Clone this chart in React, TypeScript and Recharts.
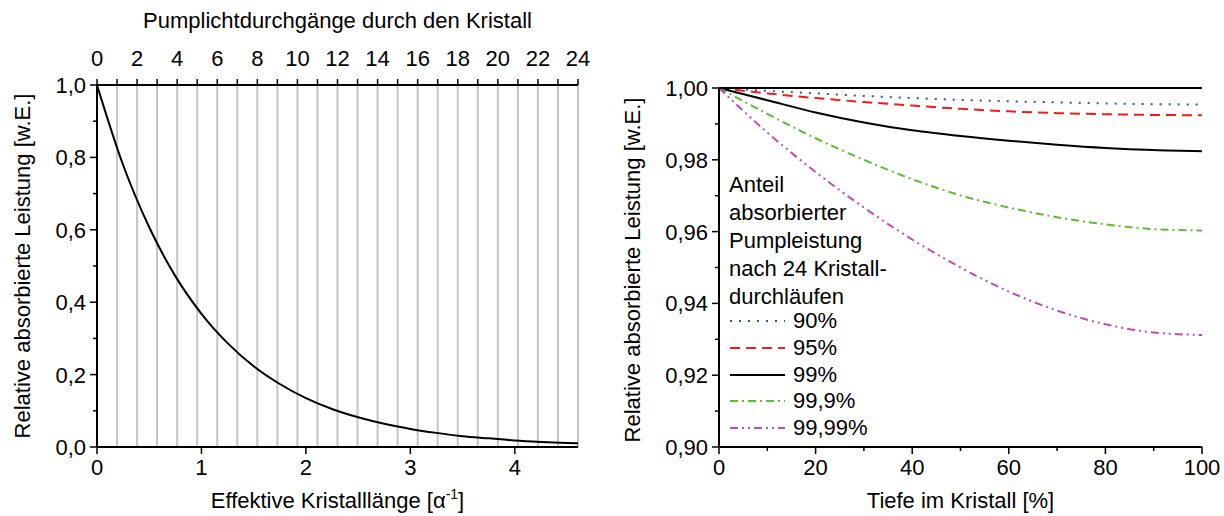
import { LineChart, Line, XAxis, YAxis, CartesianGrid, Legend } from 'recharts';

const FONT = '"Liberation Sans", Arial, Helvetica, sans-serif';
const FS = 22;

// left panel: absorbed power over effective crystal length
const effLength = [0, 0.25, 0.5, 0.75, 1, 1.25, 1.5, 1.75, 2, 2.25, 2.5, 2.75, 3, 3.25, 3.5, 3.75, 4, 4.25, 4.5, 4.605];
const absorbed = [1.0, 0.779, 0.607, 0.472, 0.368, 0.287, 0.223, 0.174, 0.135, 0.105, 0.082, 0.064, 0.05, 0.039, 0.03, 0.024, 0.018, 0.014, 0.011, 0.01];
const passes = [0, 1, 2, 3, 4, 5, 6, 7, 8, 9, 10, 11, 12, 13, 14, 15, 16, 17, 18, 19, 20, 21, 22, 23, 24];
const passLabels = [0, 2, 4, 6, 8, 10, 12, 14, 16, 18, 20, 22, 24];
const effTicks = [0, 1, 2, 3, 4];
const leftYTicks = [0, 0.1, 0.2, 0.3, 0.4, 0.5, 0.6, 0.7, 0.8, 0.9, 1.0];
const leftYMajor = [0, 0.2, 0.4, 0.6, 0.8, 1.0];

// right panel: absorbed power over crystal depth
const depth = [0, 10, 20, 30, 40, 50, 60, 70, 80, 90, 100];
const p90 = [1.0, 0.9992, 0.9985, 0.9978, 0.9972, 0.9967, 0.9963, 0.996, 0.9957, 0.9955, 0.9954];
const p95 = [1.0, 0.9985, 0.9972, 0.9961, 0.9951, 0.9942, 0.9935, 0.993, 0.9927, 0.9925, 0.9924];
const p99 = [1.0, 0.9966, 0.9932, 0.9904, 0.9882, 0.9866, 0.9853, 0.9842, 0.9833, 0.9827, 0.9824];
const p999 = [1.0, 0.9928, 0.986, 0.98, 0.9746, 0.9701, 0.9667, 0.964, 0.962, 0.9607, 0.9603];
const p9999 = [1.0, 0.9876, 0.9766, 0.9667, 0.9578, 0.95, 0.9433, 0.938, 0.9342, 0.9319, 0.9312];
const depthTicks = [0, 10, 20, 30, 40, 50, 60, 70, 80, 90, 100];
const depthMajor = [0, 20, 40, 60, 80, 100];
const rightYTicks = [0.9, 0.91, 0.92, 0.93, 0.94, 0.95, 0.96, 0.97, 0.98, 0.99, 1.0];
const rightYMajor = [0.9, 0.92, 0.94, 0.96, 0.98, 1.0];

const legendTitle = ['Anteil', 'absorbierter', 'Pumpleistung', 'nach 24 Kristall-', 'durchläufen'];

const series = [
  { key: 'p90', name: '90%', values: p90, color: '#3b4ea6', dash: '2 7' },
  { key: 'p95', name: '95%', values: p95, color: '#f01c1c', dash: '10 6' },
  { key: 'p99', name: '99%', values: p99, color: '#000000', dash: undefined },
  { key: 'p999', name: '99,9%', values: p999, color: '#5dbb35', dash: '8 4 2 4' },
  { key: 'p9999', name: '99,99%', values: p9999, color: '#bf4cb2', dash: '8 4 2 4 2 4' },
];

const leftData = effLength.map((x, i) => ({ x, y: absorbed[i] }));
const rightData = depth.map((d, i) => {
  const row: any = { depth: d };
  series.forEach((s) => (row[s.key] = s.values[i]));
  return row;
});

const txt = { fontFamily: FONT, fontSize: FS, fill: '#000' };
const isIn = (arr: number[], v: number) => arr.some((a) => Math.abs(a - v) < 1e-6);
const comma = (d: number) => (v: number) => v.toFixed(d).replace('.', ',');

function Tick(props: any) {
  const { x, y, payload, side, majors, fmt, majorLen = 7, minorLen = 4 } = props;
  const v = payload.value;
  const major = majors ? isIn(majors, v) : true;
  const len = major ? majorLen : minorLen;
  const label = major ? fmt(v) : '';
  if (side === 'left') {
    return (
      <g>
        <line x1={x} x2={x - len} y1={y} y2={y} stroke="#000" strokeWidth={1.5} />
        {label && (
          <text x={x - 11} y={y} dy="0.36em" textAnchor="end" style={txt}>
            {label}
          </text>
        )}
      </g>
    );
  }
  if (side === 'top') {
    return (
      <g>
        <line x1={x} x2={x} y1={y} y2={y - len} stroke="#000" strokeWidth={1.5} />
        {label && (
          <text x={x} y={y - 19} textAnchor="middle" style={txt}>
            {label}
          </text>
        )}
      </g>
    );
  }
  return (
    <g>
      <line x1={x} x2={x} y1={y} y2={y + len} stroke="#000" strokeWidth={1.5} />
      {label && (
        <text x={x} y={y + 28} textAnchor="middle" style={txt}>
          {label}
        </text>
      )}
    </g>
  );
}

const axisLine = { stroke: '#000', strokeWidth: 2 };

function yTitle(cx: number, cy: number) {
  return () => (
    <text x={cx} y={cy} transform={`rotate(-90, ${cx}, ${cy})`} textAnchor="middle" style={txt}>
      Relative absorbierte Leistung [w.E.]
    </text>
  );
}

function LegendBox() {
  return (
    <div style={{ fontFamily: FONT, fontSize: FS, color: '#000', lineHeight: '28px' }}>
      {legendTitle.map((t) => (
        <div key={t} style={{ whiteSpace: 'nowrap' }}>{t}</div>
      ))}
      <div style={{ marginTop: -3 }}>
        {series.map((s) => (
          <div key={s.key} style={{ display: 'flex', alignItems: 'center', height: 26.7 }}>
            <svg width={58} height={10}>
              <line x1={1} x2={56} y1={5} y2={5} stroke={s.color} strokeWidth={2} strokeDasharray={s.dash} />
            </svg>
            <span style={{ marginLeft: 6, lineHeight: '26px' }}>{s.name}</span>
          </div>
        ))}
      </div>
    </div>
  );
}

export default function App() {
  return (
    <div style={{ position: 'absolute', left: 0, top: 0, width: 1224, height: 516, background: '#fff' }}>
      <div style={{ position: 'absolute', left: 0, top: 0 }}>
        <LineChart width={620} height={516} data={leftData} margin={{ top: 0, right: 42, bottom: 0, left: 0 }}>
          <CartesianGrid xAxisId="top" horizontal={false} stroke="#c4c4c4" strokeWidth={2} />
          <XAxis
            xAxisId="bottom"
            dataKey="x"
            type="number"
            domain={[0, 4.605]}
            allowDataOverflow
            ticks={effTicks}
            interval={0}
            height={69}
            tickSize={0}
            tickMargin={0}
            tickLine={false}
            axisLine={axisLine}
            tick={<Tick side="bottom" fmt={(v: number) => String(v)} />}
            label={(p: any) => (
              <text x={p.viewBox.x + p.viewBox.width / 2} y={p.viewBox.y + 61} textAnchor="middle" style={txt}>
                Effektive Kristalllänge [α
                <tspan dy={-9} fontSize={14}>-1</tspan>
                <tspan dy={9}>]</tspan>
              </text>
            )}
          />
          <XAxis
            xAxisId="top"
            orientation="top"
            dataKey="passNo"
            type="number"
            domain={[0, 24]}
            allowDataOverflow
            ticks={passes}
            interval={0}
            height={85}
            tickSize={0}
            tickMargin={0}
            tickLine={false}
            axisLine={axisLine}
            tick={<Tick side="top" majors={passLabels} fmt={(v: number) => String(v)} majorLen={6} minorLen={6} />}
            label={(p: any) => (
              <text x={p.viewBox.x + p.viewBox.width / 2} y={28} textAnchor="middle" style={txt}>
                Pumplichtdurchgänge durch den Kristall
              </text>
            )}
          />
          <YAxis
            type="number"
            domain={[0, 1]}
            ticks={leftYTicks}
            interval={0}
            width={97}
            tickSize={0}
            tickMargin={0}
            tickLine={false}
            axisLine={axisLine}
            tick={<Tick side="left" majors={leftYMajor} fmt={comma(1)} />}
            label={yTitle(30, 266)}
          />
          <YAxis yAxisId="r" orientation="right" type="number" domain={[0, 1]} width={0} tick={false} tickLine={false} axisLine={axisLine} />
          <Line
            xAxisId="bottom"
            type="monotone"
            dataKey="y"
            stroke="#000"
            strokeWidth={2}
            dot={false}
            isAnimationActive={false}
          />
        </LineChart>
      </div>
      <div style={{ position: 'absolute', left: 620, top: 0 }}>
        <LineChart width={604} height={516} data={rightData} margin={{ top: 0, right: 22, bottom: 0, left: 0 }}>
          <XAxis
            dataKey="depth"
            type="number"
            domain={[0, 100]}
            ticks={depthTicks}
            interval={0}
            height={69}
            tickSize={0}
            tickMargin={0}
            tickLine={false}
            axisLine={axisLine}
            tick={<Tick side="bottom" majors={depthMajor} fmt={(v: number) => String(v)} />}
            label={(p: any) => (
              <text x={p.viewBox.x + p.viewBox.width / 2} y={p.viewBox.y + 61} textAnchor="middle" style={txt}>
                Tiefe im Kristall [%]
              </text>
            )}
          />
          <XAxis xAxisId="top" orientation="top" dataKey="depth" type="number" domain={[0, 100]} height={88} tick={false} tickLine={false} axisLine={axisLine} />
          <YAxis
            type="number"
            domain={[0.9, 1.0]}
            ticks={rightYTicks}
            interval={0}
            width={99}
            tickSize={0}
            tickMargin={0}
            tickLine={false}
            axisLine={axisLine}
            tick={<Tick side="left" majors={rightYMajor} fmt={comma(2)} />}
            label={yTitle(20, 270)}
          />
          <YAxis yAxisId="r" orientation="right" type="number" domain={[0, 1]} width={0} tick={false} tickLine={false} axisLine={axisLine} />
          {series.map((s) => (
            <Line
              key={s.key}
              type="monotone"
              dataKey={s.key}
              name={s.name}
              stroke={s.color}
              strokeWidth={2}
              strokeDasharray={s.dash}
              dot={false}
              isAnimationActive={false}
            />
          ))}
          <Legend
            layout="vertical"
            align="center"
            verticalAlign="middle"
            content={() => <LegendBox />}
            wrapperStyle={{ left: 109, top: 171, width: 220 }}
          />
        </LineChart>
      </div>
    </div>
  );
}
